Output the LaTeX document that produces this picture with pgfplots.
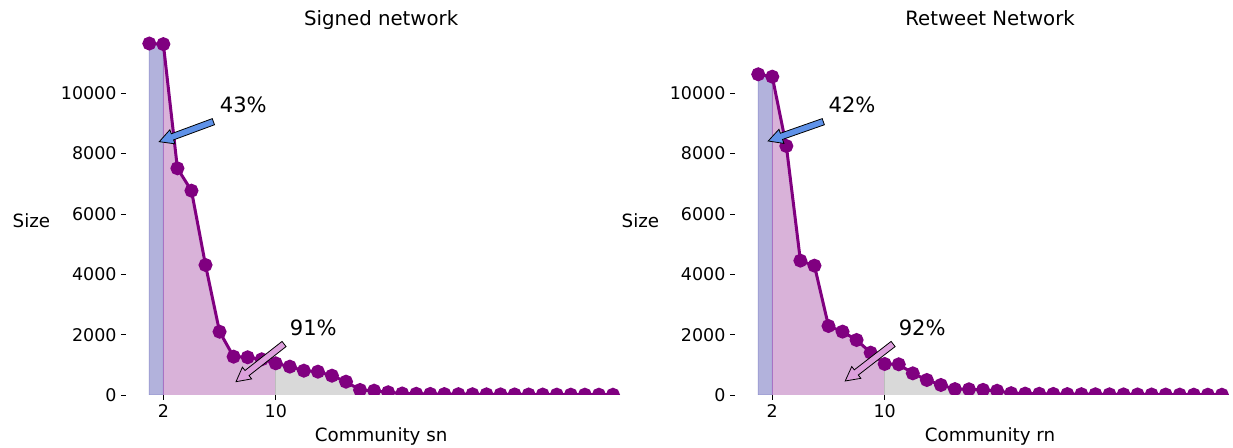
\documentclass[border=0pt]{standalone}
\usepackage{pgfplots}
\pgfplotsset{compat=1.18}
\usepackage{pgfplotstable}
\usepackage{fontspec}
\setmainfont{DejaVu Sans}
\usetikzlibrary{calc}

\definecolor{lineP}{HTML}{800080}
\definecolor{fillB}{HTML}{B2B2DC}
\definecolor{edgeB}{HTML}{8C8CCB}
\definecolor{fillP}{HTML}{D9B2D9}
\definecolor{edgeP}{HTML}{A873C4}
\definecolor{fillG}{HTML}{D9D9D9}
\definecolor{edgeG}{HTML}{BDBDBD}
\definecolor{arrB}{HTML}{5F92E8}
\definecolor{arrP}{HTML}{DDA0DD}

\newcommand\tickfont{\fontsize{13.1}{15}\selectfont}
\newcommand\labfont{\fontsize{13.7}{16}\selectfont}
\newcommand\titfont{\fontsize{14.8}{17}\selectfont}
\newcommand\pctfont{\fontsize{15.8}{18}\selectfont}

\newcommand\fancyarrow[3]{%
  \coordinate (aH) at ($(#1)!10.5pt!(#2)$);
  \filldraw[fill=#3, draw=black, line width=0.6pt, line join=miter]
   (#1) -- ($(aH)!5.6pt!90:(#2)$) -- ($(aH)!2.45pt!90:(#2)$)
   -- ($(#2)!2.45pt!-90:(aH)$) -- ($(#2)!2.45pt!90:(aH)$)
   -- ($(aH)!2.45pt!-90:(#2)$) -- ($(aH)!5.6pt!-90:(#2)$) -- cycle;
}

\pgfplotstableread{
x y
1 11650
2 11630
3 7514
4 6772
5 4309
6 2098
7 1270
8 1250
9 1183
10 1050
11 940
12 806
13 773
14 640
15 441
16 166
17 143
18 90
19 50
20 40
21 35
22 30
23 27
24 25
25 22
26 20
27 18
28 16
29 14
30 12
31 11
32 10
33 9
34 8
}\signed

\pgfplotstableread{
x y
1 10630
2 10551
3 8253
4 4453
5 4287
6 2287
7 2100
8 1823
9 1403
10 1028
11 1017
12 718
13 497
14 332
15 195
16 189
17 170
18 140
19 60
20 45
21 40
22 35
23 30
24 27
25 24
26 22
27 20
28 18
29 16
30 14
31 12
32 10
33 9
34 8
}\retweet

\pgfplotsset{
  panel/.style={
    scale only axis,
    width=382.5pt, height=276pt,
    xmin=-0.65, xmax=35.65, ymin=0, ymax=12198,
    axis lines*=left,
    axis line style={draw=none},
    tick pos=left,
    tick align=outside,
    major tick length=3.7pt,
    tick style={black, line width=0.6pt},
    xtick={2,10},
    ytick={0,2000,4000,6000,8000,10000},
    scaled ticks=false,
    /pgf/number format/1000 sep={},
    /pgf/number format/assume math mode=true,
    tick label style={font=\tickfont},
    title style={at={(axis description cs:0.5,1)}, anchor=base, yshift=-5pt, font=\titfont},
    xlabel style={at={(axis description cs:0.5,0)}, anchor=base, yshift=-35.2pt, font=\labfont},
    clip=true,
    clip marker paths=true,
  },
  curve/.style={color=lineP, line width=2.25pt, mark=*, mark size=4.1pt, mark options={fill=lineP, draw=none}},
}

\begin{document}
\begin{tikzpicture}
% ---------- left panel ----------
\begin{axis}[panel, name=L, at={(94.6pt,39.75pt)}, anchor=south west,
  title={Signed network}, xlabel={Community sn}]
\addplot[fill=fillB, draw=edgeB, line width=0.6pt, restrict x to domain=1:2] table[x=x,y=y]{\signed} \closedcycle;
\addplot[fill=fillP, draw=none, restrict x to domain=2:10] table[x=x,y=y]{\signed} \closedcycle;
\addplot[fill=fillG, draw=none, restrict x to domain=10:34] table[x=x,y=y]{\signed} \closedcycle;
\addplot[edgeP, line width=0.8pt] coordinates {(2,0) (2,11630)};
\addplot[edgeG, line width=0.6pt] coordinates {(10,0) (10,1050)};
\addplot[curve] table[x=x,y=y]{\signed};
\coordinate (L1tip) at (axis cs:1.71,8396);
\coordinate (L1tail) at (axis cs:5.56,9059);
\coordinate (L1txt) at (axis cs:7.69,9612);
\coordinate (L2tip) at (axis cs:7.17,441);
\coordinate (L2tail) at (axis cs:10.59,1690);
\coordinate (L2txt) at (axis cs:12.67,2231);
\end{axis}
\fancyarrow{L1tip}{L1tail}{arrB}
\fancyarrow{L2tip}{L2tail}{arrP}
\node[font=\pctfont] at (L1txt) {43\%};
\node[font=\pctfont] at (L2txt) {91\%};
\node[font=\labfont, anchor=base] at ([xshift=-71pt, yshift=125.25pt]L.south west) {Size};

% ---------- right panel ----------
\begin{axis}[panel, name=R, at={(551.3pt,39.75pt)}, anchor=south west,
  title={Retweet Network}, xlabel={Community rn}]
\addplot[fill=fillB, draw=edgeB, line width=0.6pt, restrict x to domain=1:2] table[x=x,y=y]{\retweet} \closedcycle;
\addplot[fill=fillP, draw=none, restrict x to domain=2:10] table[x=x,y=y]{\retweet} \closedcycle;
\addplot[fill=fillG, draw=none, restrict x to domain=10:34] table[x=x,y=y]{\retweet} \closedcycle;
\addplot[edgeP, line width=0.8pt] coordinates {(2,0) (2,10551)};
\addplot[edgeG, line width=0.6pt] coordinates {(10,0) (10,1028)};
\addplot[curve] table[x=x,y=y]{\retweet};
\coordinate (R1tip) at (axis cs:1.71,8419);
\coordinate (R1tail) at (axis cs:5.63,9059);
\coordinate (R1txt) at (axis cs:7.68,9612);
\coordinate (R2tip) at (axis cs:7.19,464);
\coordinate (R2tail) at (axis cs:10.6,1690);
\coordinate (R2txt) at (axis cs:12.67,2210);
\end{axis}
\fancyarrow{R1tip}{R1tail}{arrB}
\fancyarrow{R2tip}{R2tail}{arrP}
\node[font=\pctfont] at (R1txt) {42\%};
\node[font=\pctfont] at (R2txt) {92\%};
\node[font=\labfont, anchor=base] at ([xshift=-71pt, yshift=125.25pt]R.south west) {Size};

\pgfresetboundingbox
\path[use as bounding box] (0,0) rectangle (924.75pt,336pt);
\end{tikzpicture}
\end{document}
